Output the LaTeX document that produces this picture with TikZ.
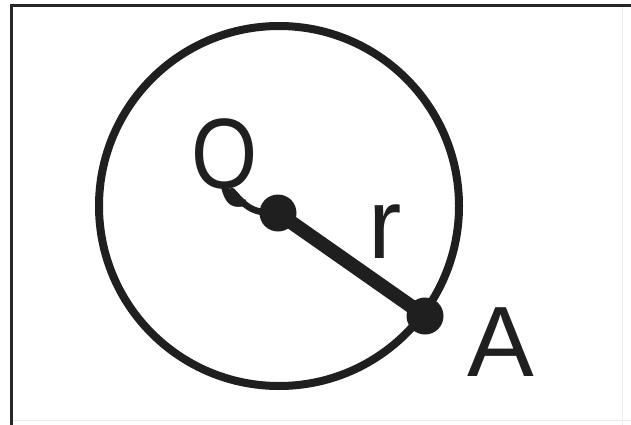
\documentclass[tikz,border=0pt]{standalone}
\usepackage{fontspec}
\setmainfont{Liberation Sans}
\begin{document}
\begin{tikzpicture}[x=1pt,y=-1pt,
  frameline/.style={line width=3pt,color=black!85},
  faintline/.style={line width=1pt,color=black!8},
  ring/.style={line width=8pt,color=black!88},
  radiusline/.style={line width=14pt,color=black!88},
  tail/.style={line width=6.5pt,color=black!88,line cap=round},
  dotfill/.style={circle,fill=black!88,inner sep=0pt,minimum size=37pt},
  lbl/.style={inner sep=0pt,anchor=base west,font=\fontsize{100}{100}\selectfont,text=black!88}]
\useasboundingbox (0,0) rectangle (631,425);
\fill[white] (0,0) rectangle (631,425);
\draw[faintline] (622,6) -- (622,425);
\draw[faintline] (11,420) -- (631,420);
\draw[frameline] (11,425) -- (11,6) -- (631,6);
\coordinate (C) at (279,206);
\draw[ring] (C) circle[radius=180pt];
\node[dotfill] (Q) at (278,213) {};
\node[dotfill] (A) at (425,316) {};
\draw[radiusline] (Q.center) -- (A.center);
\node[lbl] (qlab) at (191,188) {\scalebox{0.85}[1]{Q}};
\coordinate (qt) at (232,191);
\draw[tail] (qt) .. controls (244,204) and (250,214) .. (Q.center);
\node[lbl] (rlab) at (368,258) {r};
\node[lbl] (alab) at (467,376) {A};
\end{tikzpicture}
\end{document}
